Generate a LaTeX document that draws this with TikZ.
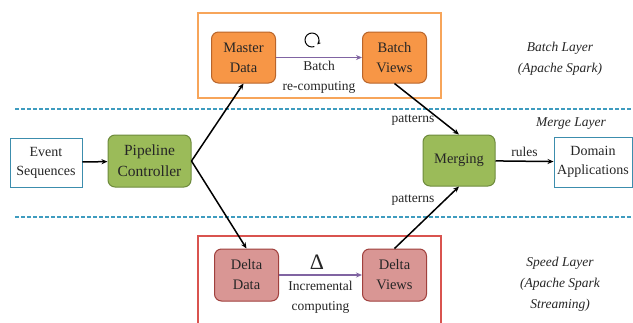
\documentclass[tikz,border=0pt]{standalone}
\usepackage{fontspec}
\setmainfont{Liberation Serif}
\newfontfamily\serifface{Liberation Serif}
\usetikzlibrary{arrows.meta}

\definecolor{orangefill}{HTML}{F79646}
\definecolor{orangeedge}{HTML}{B9652A}
\definecolor{orangeframe}{HTML}{F7A55A}
\definecolor{greenfill}{HTML}{9BBB59}
\definecolor{greenedge}{HTML}{6E8B3D}
\definecolor{redfill}{HTML}{D99694}
\definecolor{rededge}{HTML}{A0403D}
\definecolor{redframe}{HTML}{D9534F}
\definecolor{tealline}{HTML}{3E9CBF}
\definecolor{boxblue}{HTML}{3C8DAD}
\definecolor{purplearrow}{HTML}{8064A2}
\definecolor{inkgray}{HTML}{262626}

\tikzset{
  box/.style={rounded corners=7pt, draw, line width=1pt, align=center, inner sep=0pt,
    text=inkgray, font=\serifface\fontsize{14.5}{20}\selectfont},
  orangebox/.style={box, fill=orangefill, draw=orangeedge, minimum width=64pt, minimum height=51pt},
  greenbox/.style={box, fill=greenfill, draw=greenedge},
  redbox/.style={box, fill=redfill, draw=rededge, minimum width=64pt, minimum height=52pt},
  plainbox/.style={draw=boxblue, line width=0.9pt, align=center, inner sep=0pt, text=inkgray,
    font=\serifface\fontsize{14}{19}\selectfont},
  flow/.style={line width=1.5pt, -{Stealth[length=6pt,width=5pt]}},
  compute/.style={draw=purplearrow, line width=1.8pt, -{Stealth[length=6pt,width=5pt]}},
  layerdiv/.style={draw=tealline, line width=2.6pt, dash pattern=on 4pt off 2pt},
  layername/.style={align=center, text=inkgray, font=\serifface\itshape\fontsize{13.5}{21}\selectfont},
  edgetext/.style={align=center, text=inkgray, font=\serifface\fontsize{13.5}{20}\selectfont}
}

\begin{document}
\begin{tikzpicture}[x=1pt,y=-1pt]
\clip (0,0) rectangle (633,322);
\fill[white] (0,0) rectangle (633,322);

% layer frames and separators
\draw[draw=orangeframe, line width=1.5pt] (198,13) rectangle (441,98);
\draw[draw=redframe, line width=1.5pt] (198,236) rectangle (441,340);
\draw[layerdiv] (15,109) -- (633,109);
\draw[layerdiv] (15,217) -- (633,217);

% nodes
\node[plainbox, minimum width=72pt, minimum height=49pt] (es) at (46,162.5) {Event\\Sequences};
\node[greenbox, minimum width=83pt, minimum height=52pt, font=\serifface\fontsize{15.5}{21}\selectfont] (pc) at (149.5,161) {Pipeline\\Controller};
\node[orangebox] (md) at (243.5,57.5) {Master\\Data};
\node[orangebox] (bv) at (394.5,57.5) {Batch\\Views};
\node[redbox] (dd) at (246.5,275) {Delta\\Data};
\node[redbox] (dv) at (394.5,275) {Delta\\Views};
\node[greenbox, minimum width=72pt, minimum height=51pt] (mg) at (459,160.5) {Merging};
\node[plainbox, minimum width=78pt, minimum height=50pt] (da) at (593,162) {Domain\\Applications};

% connectors
\draw[flow] (es) -- (pc);
\draw[flow] (pc.east) -- (md.south);
\draw[flow] (pc.east) -- (dd.north);
\draw[flow] (bv.south) -- (mg.north);
\draw[flow] (dv.north) -- (mg.south);
\draw[flow] (mg) -- node[edgetext, above, yshift=1pt] (rl) {rules} (da);
\draw[compute] (md) -- node[edgetext, below, inner sep=3pt] (bl) {Batch\\re-computing} (bv);
\draw[compute] (dd) -- node[edgetext, below, inner sep=5pt] (il) {Incremental\\computing} (dv);

% edge annotations
\node[edgetext] (pt1) at (413,120) {patterns};
\node[edgetext] (pt2) at (413,200) {patterns};
\node[text=inkgray, font=\serifface\fontsize{22}{22}\selectfont] (dl) at (317,262) {Δ};

% recomputation loop symbol
\coordinate (loop) at (312,40);
\draw[line width=1pt, -{Stealth[length=3.5pt,width=3.5pt]}]
  ([shift={(70:7)}]loop) arc[start angle=70, end angle=400, radius=7];

% layer names
\node[layername] (bln) at (560,59) {Batch Layer\\(Apache Spark)};
\node[layername] (mln) at (571,124) {Merge Layer};
\node[layername] (sln) at (560,284) {Speed Layer\\(Apache Spark\\Streaming)};
\end{tikzpicture}
\end{document}
